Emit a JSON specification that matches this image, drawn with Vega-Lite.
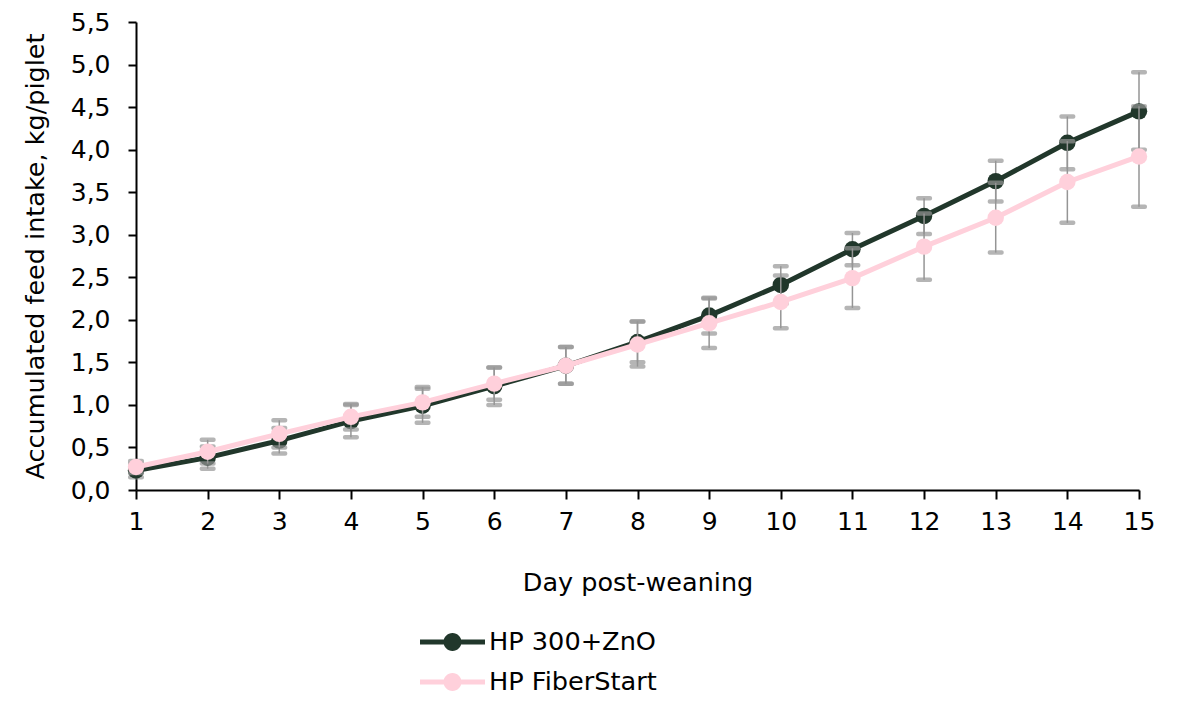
{
  "$schema": "https://vega.github.io/schema/vega-lite/v6.json",
  "width": 1003,
  "height": 468,
  "autosize": "none",
  "padding": {"left": 136, "top": 22, "right": 43, "bottom": 226},
  "background": "white",
  "config": {
    "view": {"stroke": null},
    "font": "DejaVu Sans",
    "axis": {"grid": false, "domainColor": "black", "tickColor": "black", "labelColor": "black", "titleColor": "black", "labelFont": "DejaVu Sans", "titleFont": "DejaVu Sans", "titleFontWeight": "normal", "domainWidth": 2, "tickWidth": 2},
    "legend": {"labelFont": "DejaVu Sans"}
  },
  "data": {"values": [
    {"day": 1, "series": "HP 300+ZnO", "mean": 0.23, "lo": 0.15, "hi": 0.31},
    {"day": 2, "series": "HP 300+ZnO", "mean": 0.38, "lo": 0.25, "hi": 0.51},
    {"day": 3, "series": "HP 300+ZnO", "mean": 0.58, "lo": 0.43, "hi": 0.73},
    {"day": 4, "series": "HP 300+ZnO", "mean": 0.81, "lo": 0.62, "hi": 1.0},
    {"day": 5, "series": "HP 300+ZnO", "mean": 0.99, "lo": 0.79, "hi": 1.19},
    {"day": 6, "series": "HP 300+ZnO", "mean": 1.22, "lo": 1.0, "hi": 1.44},
    {"day": 7, "series": "HP 300+ZnO", "mean": 1.46, "lo": 1.25, "hi": 1.68},
    {"day": 8, "series": "HP 300+ZnO", "mean": 1.74, "lo": 1.5, "hi": 1.98},
    {"day": 9, "series": "HP 300+ZnO", "mean": 2.05, "lo": 1.84, "hi": 2.26},
    {"day": 10, "series": "HP 300+ZnO", "mean": 2.41, "lo": 2.19, "hi": 2.63},
    {"day": 11, "series": "HP 300+ZnO", "mean": 2.83, "lo": 2.64, "hi": 3.02},
    {"day": 12, "series": "HP 300+ZnO", "mean": 3.22, "lo": 3.01, "hi": 3.43},
    {"day": 13, "series": "HP 300+ZnO", "mean": 3.63, "lo": 3.39, "hi": 3.87},
    {"day": 14, "series": "HP 300+ZnO", "mean": 4.08, "lo": 3.77, "hi": 4.39},
    {"day": 15, "series": "HP 300+ZnO", "mean": 4.45, "lo": 4.0, "hi": 4.91},
    {"day": 1, "series": "HP FiberStart", "mean": 0.27, "lo": 0.2, "hi": 0.34},
    {"day": 2, "series": "HP FiberStart", "mean": 0.45, "lo": 0.31, "hi": 0.59},
    {"day": 3, "series": "HP FiberStart", "mean": 0.66, "lo": 0.5, "hi": 0.82},
    {"day": 4, "series": "HP FiberStart", "mean": 0.86, "lo": 0.71, "hi": 1.01},
    {"day": 5, "series": "HP FiberStart", "mean": 1.03, "lo": 0.86, "hi": 1.21},
    {"day": 6, "series": "HP FiberStart", "mean": 1.25, "lo": 1.06, "hi": 1.44},
    {"day": 7, "series": "HP FiberStart", "mean": 1.46, "lo": 1.25, "hi": 1.68},
    {"day": 8, "series": "HP FiberStart", "mean": 1.71, "lo": 1.45, "hi": 1.98},
    {"day": 9, "series": "HP FiberStart", "mean": 1.96, "lo": 1.67, "hi": 2.25},
    {"day": 10, "series": "HP FiberStart", "mean": 2.21, "lo": 1.9, "hi": 2.52},
    {"day": 11, "series": "HP FiberStart", "mean": 2.49, "lo": 2.14, "hi": 2.84},
    {"day": 12, "series": "HP FiberStart", "mean": 2.86, "lo": 2.47, "hi": 3.25},
    {"day": 13, "series": "HP FiberStart", "mean": 3.2, "lo": 2.79, "hi": 3.61},
    {"day": 14, "series": "HP FiberStart", "mean": 3.62, "lo": 3.14, "hi": 4.1},
    {"day": 15, "series": "HP FiberStart", "mean": 3.92, "lo": 3.33, "hi": 4.51}
  ]},
  "encoding": {
    "x": {"field": "day", "type": "quantitative", "scale": {"domain": [1, 15], "nice": false, "zero": false},
      "axis": {"title": "Day post-weaning", "values": [1,2,3,4,5,6,7,8,9,10,11,12,13,14,15], "labelFontSize": 25, "titleFontSize": 25.5, "tickSize": 9, "labelPadding": 10, "titlePadding": 36, "labelFlush": false}},
    "y": {"field": "mean", "type": "quantitative", "scale": {"domain": [0, 5.5], "nice": false},
      "axis": {"title": "Accumulated feed intake, kg/piglet", "values": [0,0.5,1,1.5,2,2.5,3,3.5,4,4.5,5,5.5], "labelExpr": "replace(format(datum.value, '.1f'), '.', ',')", "labelFontSize": 25, "titleFontSize": 25.5, "tickSize": 8, "labelPadding": 18, "titlePadding": 22}},
    "color": {"field": "series", "type": "nominal", "title": null,
      "scale": {"domain": ["HP 300+ZnO", "HP FiberStart"], "range": ["#21372B", "#FFD0DB"]},
      "legend": {"orient": "none", "legendX": 284, "legendY": 600, "direction": "vertical", "labelFontSize": 25.6, "labelColor": "black", "labelOffset": 4, "labelLimit": 400, "rowPadding": 0, "clipHeight": 40,
        "symbolType": "M-1,-0.077 L1,-0.077 L1,0.077 L-1,0.077 Z M0.277,0 A0.277,0.277 0 1,1 -0.277,0 A0.277,0.277 0 1,1 0.277,0 Z",
        "symbolSize": 4225, "symbolStrokeWidth": 0,
        "encode": {"symbols": {"update": {"fill": {"scale": "color", "field": "value"}, "strokeWidth": {"value": 0}, "opacity": {"value": 1}}}}}}
  },
  "layer": [
    {"transform": [{"filter": "datum.series === 'HP 300+ZnO'"}], "mark": {"type": "rule", "color": "#959595", "strokeWidth": 1.5}, "encoding": {"y": {"field": "lo", "type": "quantitative"}, "y2": {"field": "hi"}, "color": {"value": "#959595"}}},
    {"transform": [{"filter": "datum.series === 'HP 300+ZnO'"}], "mark": {"type": "tick", "color": "#959595", "size": 16, "thickness": 4.5, "cornerRadius": 2, "orient": "horizontal"}, "encoding": {"y": {"field": "lo", "type": "quantitative"}, "color": {"value": "#959595"}}},
    {"transform": [{"filter": "datum.series === 'HP 300+ZnO'"}], "mark": {"type": "tick", "color": "#959595", "size": 16, "thickness": 4.5, "cornerRadius": 2, "orient": "horizontal"}, "encoding": {"y": {"field": "hi", "type": "quantitative"}, "color": {"value": "#959595"}}},
    {"transform": [{"filter": "datum.series === 'HP 300+ZnO'"}], "mark": {"type": "line", "strokeWidth": 5}},
    {"transform": [{"filter": "datum.series === 'HP 300+ZnO'"}], "mark": {"type": "point", "filled": true, "opacity": 1, "size": 270, "shape": "circle"}},
    {"transform": [{"filter": "datum.series === 'HP FiberStart'"}], "mark": {"type": "rule", "color": "#959595", "strokeWidth": 1.5}, "encoding": {"y": {"field": "lo", "type": "quantitative"}, "y2": {"field": "hi"}, "color": {"value": "#959595"}}},
    {"transform": [{"filter": "datum.series === 'HP FiberStart'"}], "mark": {"type": "tick", "color": "#959595", "size": 16, "thickness": 4.5, "cornerRadius": 2, "orient": "horizontal"}, "encoding": {"y": {"field": "lo", "type": "quantitative"}, "color": {"value": "#959595"}}},
    {"transform": [{"filter": "datum.series === 'HP FiberStart'"}], "mark": {"type": "tick", "color": "#959595", "size": 16, "thickness": 4.5, "cornerRadius": 2, "orient": "horizontal"}, "encoding": {"y": {"field": "hi", "type": "quantitative"}, "color": {"value": "#959595"}}},
    {"transform": [{"filter": "datum.series === 'HP FiberStart'"}], "mark": {"type": "line", "strokeWidth": 5}},
    {"transform": [{"filter": "datum.series === 'HP FiberStart'"}], "mark": {"type": "point", "filled": true, "opacity": 1, "size": 270, "shape": "circle"}}
  ]
}
